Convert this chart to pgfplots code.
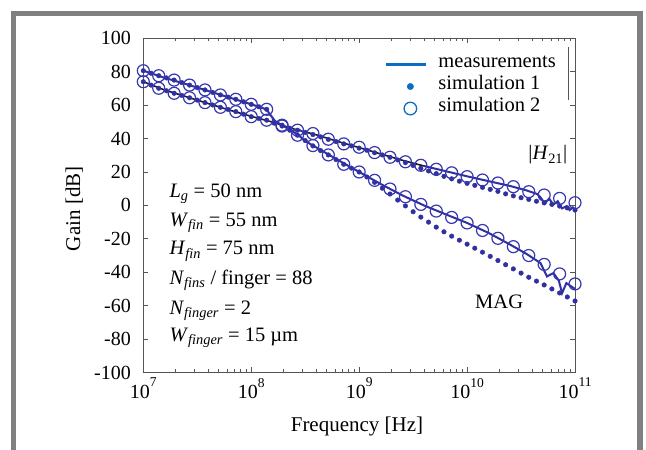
\documentclass[border=0pt]{standalone}
\usepackage{pgfplots}
\pgfplotsset{compat=1.18}
\usepackage{fontspec}
\setmainfont{Liberation Serif}
\definecolor{navy}{RGB}{48,48,160}
\definecolor{navyc}{RGB}{55,55,178}
\definecolor{darkline}{RGB}{28,28,45}
\definecolor{legblue}{RGB}{10,110,195}
\definecolor{framegray}{RGB}{128,128,128}
\definecolor{axgray}{RGB}{85,85,85}
\newcommand{\bigf}{\fontsize{20.5}{22}\selectfont}
\newcommand{\tp}[1]{10\raisebox{11.5pt}{\fontsize{13.5}{14}\selectfont #1}}

\pgfplotstableread{
f dB
1e7 74.0
1.3895e7 70.1
1.9307e7 67.1
2.6827e7 64.4
3.7276e7 61.5
5.1795e7 58.7
7.1969e7 56.1
1e8 53.1
1.3895e8 51.0
1.9307e8 47.5
2.6827e8 45.0
3.7276e8 43.0
5.1795e8 39.6
7.1969e8 36.8
1e9 34.8
1.3895e9 31.6
1.9307e9 28.8
2.6827e9 26.1
3.7276e9 24.0
5.1795e9 21.6
7.1969e9 19.5
1e10 17.2
1.3895e10 15.2
1.9307e10 13.4
2.6827e10 11.2
3.7276e10 8.2
5.1795e10 6.2
7.1969e10 4.2
1e11 1.6
}\simtwoH

\pgfplotstableread{
f dB
1e7 80.6
1.3895e7 77.6
1.9307e7 75.0
2.6827e7 72.0
3.7276e7 69.1
5.1795e7 66.1
7.1969e7 63.5
1e8 60.5
1.3895e8 57.5
1.9307e8 48.0
2.6827e8 42.0
3.7276e8 35.8
5.1795e8 30.2
7.1969e8 24.6
1e9 20.0
1.3895e9 15.0
1.9307e9 9.8
2.6827e9 5.2
3.7276e9 0.6
5.1795e9 -3.4
7.1969e9 -7.2
1e10 -10.5
1.3895e10 -15.0
1.9307e10 -19.7
2.6827e10 -24.7
3.7276e10 -30.0
5.1795e10 -35.3
7.1969e10 -41.0
1e11 -47.0
}\simtwoM

\pgfplotstableread{
f dB
1e7 74.0
1.1788e7 72.0
1.3895e7 70.1
1.6379e7 68.6
1.9307e7 67.1
2.2758e7 65.8
2.6827e7 64.4
3.1623e7 63.0
3.7276e7 61.5
4.3940e7 60.1
5.1795e7 58.7
6.1054e7 57.4
7.1969e7 56.1
8.4834e7 54.6
1e8 53.1
1.1788e8 52.0
1.3895e8 51.0
1.6379e8 49.2
1.9307e8 47.5
2.2758e8 46.2
2.6827e8 45.0
3.1623e8 43.7
3.7276e8 42.4
4.3940e8 41.0
5.1795e8 39.5
6.1054e8 38.2
7.1969e8 36.8
8.4834e8 35.6
1e9 34.3
1.1788e9 33.0
1.3895e9 31.5
1.6379e9 30.2
1.9307e9 28.8
2.2758e9 27.2
2.6827e9 25.6
3.1623e9 23.9
3.7276e9 22.2
4.3940e9 20.6
5.1795e9 19.0
6.1054e9 17.4
7.1969e9 15.9
8.4834e9 14.5
1e10 13.2
1.1788e10 12.0
1.3895e10 10.8
1.6379e10 9.6
1.9307e10 8.4
2.2758e10 6.9
2.6827e10 5.7
3.1623e10 4.6
3.7276e10 3.6
4.3940e10 2.5
5.1795e10 1.5
6.1054e10 0.6
7.1969e10 -0.4
8.4834e10 -1.5
1e11 -2.8
}\simoneH

\pgfplotstableread{
f dB
1e7 80.6
1.1788e7 79.1
1.3895e7 77.6
1.6379e7 76.3
1.9307e7 75.0
2.2758e7 73.5
2.6827e7 72.0
3.1623e7 70.5
3.7276e7 69.1
4.3940e7 67.6
5.1795e7 66.1
6.1054e7 64.8
7.1969e7 63.5
8.4834e7 62.0
1e8 60.5
1.1788e8 59.0
1.3895e8 57.5
1.6379e8 49.5
1.9307e8 48.0
2.2758e8 45.0
2.6827e8 42.0
3.1623e8 38.8
3.7276e8 35.6
4.3940e8 32.8
5.1795e8 30.2
6.1054e8 27.4
7.1969e8 24.6
8.4834e8 22.3
1e9 20.0
1.1788e9 17.0
1.3895e9 13.8
1.6379e9 10.3
1.9307e9 6.8
2.2758e9 3.2
2.6827e9 -0.3
3.1623e9 -3.8
3.7276e9 -7.0
4.3940e9 -10.0
5.1795e9 -13.0
6.1054e9 -15.8
7.1969e9 -18.4
8.4834e9 -20.8
1e10 -23.2
1.1788e10 -25.6
1.3895e10 -28.0
1.6379e10 -30.5
1.9307e10 -33.0
2.2758e10 -35.5
2.6827e10 -38.0
3.1623e10 -40.5
3.7276e10 -43.0
4.3940e10 -45.3
5.1795e10 -47.6
6.1054e10 -50.0
7.1969e10 -52.4
8.4834e10 -54.8
1e11 -57.2
}\simoneM

\pgfplotstableread{
f dB
1e7 74.0
1.585e7 69.0
2.512e7 65.0
3.981e7 61.0
6.310e7 57.0
1e8 53.3
1.585e8 49.8
2.512e8 45.6
3.981e8 42.3
6.310e8 38.3
1e9 34.6
1.585e9 30.8
2.512e9 27.0
3.981e9 23.6
}\measHa

\pgfplotstableread{
f dB
3.981e9 23.6
6.310e9 20.5
1e10 17.4
1.585e10 14.5
2.512e10 11.6
3.548e10 9.0
4.467e10 6.8
4.786e10 4.8
5.248e10 1.2
5.754e10 4.0
6.310e10 0.5
6.918e10 2.5
7.586e10 -1.8
8.318e10 -0.5
8.913e10 -2.8
9.550e10 -1.2
1e11 -2.5
}\measHb

\pgfplotstableread{
f dB
1e7 80.6
1.585e7 76.3
2.512e7 72.5
3.981e7 68.5
6.310e7 64.5
1e8 60.5
1.38e8 57.5
1.66e8 50.5
1.95e8 47.8
2.69e8 42.5
3.16e8 38.5
3.98e8 34.8
6.31e8 27.3
1e9 20.0
1.585e9 12.8
2.512e9 6.0
3.981e9 0.0
6.310e9 -5.3
1e10 -10.5
1.585e10 -16.5
2.512e10 -23.5
3.548e10 -29.0
4.786e10 -34.5
5.495e10 -42.5
6.310e10 -40.5
7.079e10 -45.0
7.586e10 -52.5
8.318e10 -46.5
9.333e10 -48.7
1e11 -50.0
}\measM

\begin{document}
\begin{tikzpicture}
\fill[white] (0pt,0pt) rectangle (646pt,450pt);
\draw[framegray, line width=5.4pt, line join=miter] (13.5pt,-8pt) -- (13.5pt,436.5pt) -- (640pt,436.5pt) -- (640pt,-8pt);
\begin{axis}[
  at={(143.3pt,77.5pt)}, anchor=south west,
  width=431.7pt, height=334.2pt, scale only axis,
  xmode=log, xmin=1e7, xmax=1e11,
  ymin=-100, ymax=100,
  ytick={-100,-80,-60,-40,-20,0,20,40,60,80,100},
  yticklabels={-100,-80,-60,-40,-20,0,20,40,60,80,100},
  xtick={1e7,1e8,1e9,1e10,1e11},
  xticklabels={\tp{7},\tp{8},\tp{9},\tp{10},\tp{11}},
  minor xtick={2e7,3e7,4e7,5e7,6e7,7e7,8e7,9e7,2e8,3e8,4e8,5e8,6e8,7e8,8e8,9e8,2e9,3e9,4e9,5e9,6e9,7e9,8e9,9e9,2e10,3e10,4e10,5e10,6e10,7e10,8e10,9e10},
  tick align=inside,
  major tick length=5pt, minor tick length=3pt,
  axis line style={axgray, line width=0.9pt},
  every tick/.style={axgray, line width=0.7pt},
  ticklabel style={font=\fontsize{20}{22}\selectfont},
  yticklabel style={xshift=-9pt},
  xticklabel style={yshift=-2pt},
  every axis x label/.style={at={(axis description cs:0.495,-0.1765)}, anchor=base},
  every axis y label/.style={at={(axis description cs:-0.1466,0.49)}, anchor=base, rotate=90},
  label style={font=\fontsize{21}{22}\selectfont},
  xlabel={Frequency [Hz]},
  ylabel={Gain [dB]},
  legend style={draw=none, fill=none, at={(0.56,0.955)}, anchor=north west,
    font=\fontsize{20.5}{22}\selectfont, row sep=0pt, inner sep=0pt,
    nodes={inner sep=0pt, text height=14pt, text depth=8pt},
    /tikz/every odd column/.append style={column sep=11pt}},
  legend cell align=left,
]
\addlegendimage{legend image code/.code={\draw[legblue, line width=2.2pt] (0pt,0pt) -- (40pt,0pt);}}
\addlegendentry{measurements}
\addlegendimage{legend image code/.code={\path[draw=none] (0pt,0pt) -- (40pt,0pt); \fill[legblue] (24pt,0pt) circle (3.2pt);}}
\addlegendentry{simulation 1}
\addlegendimage{legend image code/.code={\path[draw=none] (0pt,0pt) -- (40pt,0pt); \draw[legblue, line width=1.3pt] (24pt,0pt) circle (6.3pt);}}
\addlegendentry{simulation 2}

\addplot[forget plot, darkline, line width=1.6pt] table[x=f, y=dB] {\measHa};
\addplot[forget plot, navy, line width=2pt] table[x=f, y=dB] {\measHb};
\addplot[forget plot, navy, line width=2pt] table[x=f, y=dB] {\measM};
\addplot[forget plot, only marks, mark=*, mark size=2.3pt, navy, mark options={draw=none, fill=navy}] table[x=f, y=dB] {\simoneH};
\addplot[forget plot, only marks, mark=*, mark size=2.3pt, navy, mark options={draw=none, fill=navy}] table[x=f, y=dB] {\simoneM};
\addplot[forget plot, only marks, mark=o, mark size=6pt, navyc, mark options={line width=1.2pt}] table[x=f, y=dB] {\simtwoH};
\addplot[forget plot, only marks, mark=o, mark size=6pt, navyc, mark options={line width=1.2pt}] table[x=f, y=dB] {\simtwoM};

\draw[axgray, line width=0.7pt] (rel axis cs:0.9838,0.974) -- (rel axis cs:0.9838,0.815);

\node[anchor=base west, font=\bigf] at (rel axis cs:0.0526,0.5242) {\textit{L}\textsubscript{\textit{g}} = 50 nm};
\node[anchor=base west, font=\bigf] at (rel axis cs:0.0526,0.4360) {\textit{W}\textsubscript{\textit{fin}} = 55 nm};
\node[anchor=base west, font=\bigf] at (rel axis cs:0.0526,0.3516) {\textit{H}\textsubscript{\textit{fin}} = 75 nm};
\node[anchor=base west, font=\bigf] at (rel axis cs:0.0526,0.2648) {\textit{N}\textsubscript{\textit{fins}} / finger = 88};
\node[anchor=base west, font=\bigf] at (rel axis cs:0.0526,0.1750) {\textit{N}\textsubscript{\textit{finger}} = 2};
\node[anchor=base west, font=\bigf] at (rel axis cs:0.0526,0.0922) {\textit{W}\textsubscript{\textit{finger}} = 15 µm};
\node[anchor=base west, font=\bigf] at (rel axis cs:0.7607,0.192) {MAG};
\node[anchor=base west, font=\bigf] at (rel axis cs:0.884,0.636) {|\textit{H}\textsubscript{21}|};
\end{axis}
\pgfresetboundingbox
\path[use as bounding box] (0pt,0pt) rectangle (646pt,450pt);
\end{tikzpicture}
\end{document}
